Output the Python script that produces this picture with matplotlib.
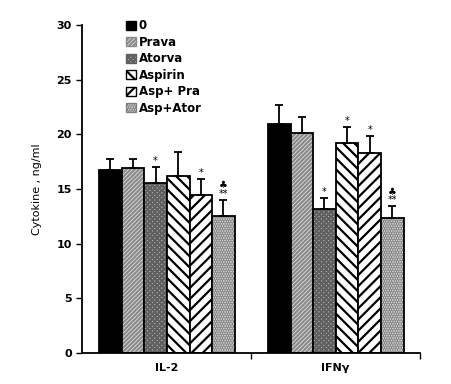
import matplotlib.pyplot as plt
import numpy as np

groups = ['IL-2', 'IFNγ']
treatments = ['0', 'Prava', 'Atorva', 'Aspirin', 'Asp+ Pra', 'Asp+Ator']
means = {
    '0':        [16.7, 20.9],
    'Prava':    [16.9, 20.1],
    'Atorva':   [15.5, 13.2],
    'Aspirin':  [16.2, 19.2],
    'Asp+ Pra': [14.4, 18.3],
    'Asp+Ator': [12.5, 12.3],
}
errors = {
    '0':        [1.0, 1.8],
    'Prava':    [0.8, 1.5],
    'Atorva':   [1.5, 1.0],
    'Aspirin':  [2.2, 1.5],
    'Asp+ Pra': [1.5, 1.5],
    'Asp+Ator': [1.5, 1.1],
}
marks = {
    '0':        ['', ''],
    'Prava':    ['', ''],
    'Atorva':   ['*', '*'],
    'Aspirin':  ['', '*'],
    'Asp+ Pra': ['*', '*'],
    'Asp+Ator': ['♣\n**', '♣\n**'],
}

# facecolor, hatch, hatch colour
styles = {
    '0':        ('black', None, 'black'),
    'Prava':    ('#e8e8e8', '////////', '#8a8a8a'),
    'Atorva':   ('#c4c4c4', 'xxxxxxx', '#606060'),
    'Aspirin':  ('white', '\\\\\\', 'black'),
    'Asp+ Pra': ('white', '///', 'black'),
    'Asp+Ator': ('#e0e0e0', '.......', '#808080'),
}

plt.rcParams['hatch.linewidth'] = 1.6
fig = plt.figure(figsize=(4.51, 3.84), dpi=100)
ax = fig.add_axes([0.182, 0.081, 0.749, 0.854])

width = 0.134
x = np.arange(len(groups)) + 0.5
handles = []
for i, t in enumerate(treatments):
    fc, hatch, hc = styles[t]
    pos = x - 0.4 + width * (i + 0.5)
    ax.bar(pos, means[t], width, facecolor=fc, hatch=hatch, edgecolor=hc,
           linewidth=0)
    ax.bar(pos, means[t], width, facecolor='none', edgecolor='black',
           linewidth=1.3)
    handles.append(plt.Rectangle((0, 0), 1, 1, facecolor=fc, hatch=hatch,
                                 edgecolor=hc if hatch else 'black',
                                 linewidth=1.0))
    ax.errorbar(pos, means[t], yerr=[np.zeros(2), errors[t]], fmt='none',
                ecolor='black', elinewidth=1.3, capsize=3, capthick=1.3)
    for p, m, e, s in zip(pos, means[t], errors[t], marks[t]):
        if s:
            ax.text(p, m + e + 0.1, s, ha='center', va='bottom',
                    fontsize=7, linespacing=0.8)

ax.set_xlim(0, 2)
ax.set_ylim(0, 30)
ax.set_yticks(range(0, 31, 5))
ax.set_xticks([1, 2])
ax.set_xticklabels([])
ax.set_xticks(x, minor=True)
ax.set_xticklabels(groups, minor=True, fontweight='bold', fontsize=8)
ax.tick_params(axis='x', which='minor', length=0, pad=7)
ax.tick_params(axis='both', which='major', direction='out', length=4, width=1)
for lab in ax.get_yticklabels():
    lab.set_fontweight('bold')
    lab.set_fontsize(8)
ax.set_ylabel('Cytokine , ng/ml', fontsize=8, labelpad=10)
ax.spines['top'].set_visible(False)
ax.spines['right'].set_visible(False)
ax.spines['left'].set_linewidth(1.3)
ax.spines['bottom'].set_linewidth(1.3)

ax.legend(handles, treatments, loc='upper left',
          bbox_to_anchor=(0.1, 1.05), frameon=False,
          prop={'weight': 'bold', 'size': 8.5}, handlelength=0.8,
          handleheight=0.8, handletextpad=0.25, labelspacing=0.3)

plt.savefig('out.png', dpi=100)
plt.close()
